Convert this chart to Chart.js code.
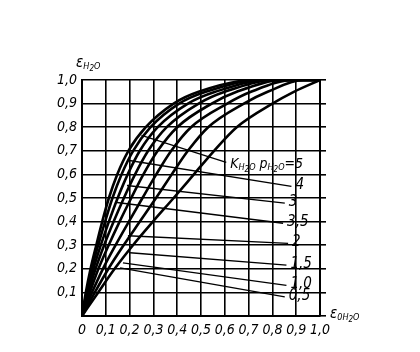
<!DOCTYPE html>
<html>
<head>
<meta charset="utf-8">
<script src="https://cdn.jsdelivr.net/npm/chart.js@4.4.0/dist/chart.umd.min.js"></script>
<style>
  html, body { margin: 0; padding: 0; background: #fff; }
  #wrap { width: 420px; height: 352px; }
</style>
</head>
<body>
<div id="wrap"><canvas id="epsChart" width="420" height="352"></canvas></div>
<script>
const epsLevels = [0, 0.1, 0.2, 0.3, 0.4, 0.5, 0.6, 0.7, 0.8, 0.9, 0.95, 1.0];
// eps_0H2O where each K*p curve crosses those levels
const eps0K5  = [0, 0.016, 0.036, 0.060, 0.085, 0.113, 0.148, 0.195, 0.268, 0.385, 0.49, 0.72];
const eps0K4  = [0, 0.019, 0.041, 0.068, 0.097, 0.128, 0.166, 0.215, 0.288, 0.408, 0.52, 0.75];
const eps0K3  = [0, 0.023, 0.048, 0.079, 0.113, 0.150, 0.192, 0.243, 0.318, 0.445, 0.56, 0.78];
const eps0K35 = [0, 0.027, 0.057, 0.093, 0.133, 0.176, 0.223, 0.278, 0.356, 0.490, 0.60, 0.81];
const eps0K2  = [0, 0.033, 0.069, 0.112, 0.158, 0.207, 0.258, 0.318, 0.400, 0.545, 0.65, 0.85];
const eps0K15 = [0, 0.042, 0.088, 0.141, 0.197, 0.254, 0.312, 0.375, 0.458, 0.610, 0.71, 0.89];
const eps0K1  = [0, 0.054, 0.111, 0.175, 0.243, 0.311, 0.377, 0.445, 0.530, 0.680, 0.78, 0.93];
const eps0K05 = [0, 0.068, 0.137, 0.214, 0.298, 0.385, 0.470, 0.555, 0.650, 0.800, 0.89, 1.0];
const curves = [eps0K5, eps0K4, eps0K3, eps0K35, eps0K2, eps0K15, eps0K1, eps0K05];

// leader lines: from curve to label  [x, y]
const kLabels    = ['5', '4', '3', '3,5', '2', '1,5', '1,0', '0,5'];
const leaderFrom = [[0.25, 0.765], [0.193, 0.66], [0.189, 0.553], [0.147, 0.481], [0.193, 0.34], [0.202, 0.268], [0.172, 0.225], [0.16, 0.204]];
const leaderTo   = [[0.606, 0.651], [0.88, 0.549], [0.852, 0.478], [0.845, 0.393], [0.866, 0.308], [0.859, 0.216], [0.859, 0.13], [0.852, 0.081]];

const xTicks = ['0', '0,1', '0,2', '0,3', '0,4', '0,5', '0,6', '0,7', '0,8', '0,9', '1,0'];
const yTicks = ['', '0,1', '0,2', '0,3', '0,4', '0,5', '0,6', '0,7', '0,8', '0,9', '1,0'];

const FONT = '"DejaVu Sans Condensed", "DejaVu Sans", sans-serif';

const datasets = [];
curves.forEach(function(c) {
  const pts = c.map(function(x, i) { return { x: x, y: epsLevels[i] }; });
  if (c[c.length - 1] < 1) pts.push({ x: 1, y: 1 });
  datasets.push({
    data: pts,
    borderColor: '#000',
    borderWidth: 2.6,
    pointRadius: 0,
    cubicInterpolationMode: 'monotone',
    fill: false
  });
});
leaderFrom.forEach(function(p, i) {
  datasets.push({
    data: [{ x: p[0], y: p[1] }, { x: leaderTo[i][0], y: leaderTo[i][1] }],
    borderColor: '#000',
    borderWidth: 1.3,
    pointRadius: 0,
    tension: 0,
    fill: false
  });
});

// draws subscripted text like eps_H2O
function subText(ctx, x, y, parts) {
  parts.forEach(function(p) {
    ctx.font = 'italic ' + p[1] + 'px ' + FONT;
    ctx.fillText(p[0], x, y + (p[2] || 0));
    x += ctx.measureText(p[0]).width;
  });
  return x;
}

const labelsPlugin = {
  id: 'labels',
  afterDatasetsDraw: function(chart) {
    const ctx = chart.ctx;
    const xs = chart.scales.x, ys = chart.scales.y;
    ctx.save();
    ctx.fillStyle = '#000';
    ctx.textBaseline = 'alphabetic';
    ctx.textAlign = 'left';
    // axis titles
    subText(ctx, 76, 67, [['ε', 15], ['H', 9, 2], ['2', 8, 4], ['O', 9, 2]]);
    subText(ctx, 330, 318, [['ε', 15], ['0H', 9, 2], ['2', 8, 4], ['O', 9, 2]]);
    // K*p labels at the leader ends
    kLabels.forEach(function(t, i) {
      const px = xs.getPixelForValue(leaderTo[i][0]) + 4;
      const py = ys.getPixelForValue(leaderTo[i][1]) + 3;
      if (i === 0) {
        subText(ctx, px, py + 3, [['K', 14], ['H', 9, 2], ['2', 8, 4], ['O', 9, 2], [' p', 14], ['H', 9, 2], ['2', 8, 4], ['O', 9, 2], ['=' + t, 14]]);
      } else {
        ctx.font = 'italic 15px ' + FONT;
        ctx.fillText(t, px, py);
      }
    });
    ctx.restore();
  }
};

const ctx = document.getElementById('epsChart').getContext('2d');
const epsChart = new Chart(ctx, {
  type: 'line',
  data: { datasets: datasets },
  options: {
    responsive: false,
    animation: false,
    layout: { padding: { left: 28, top: 80, right: 92, bottom: 10 } },
    plugins: { legend: { display: false }, tooltip: { enabled: false } },
    scales: {
      x: {
        type: 'linear', min: 0, max: 1,
        afterFit: function(s) { s.height = 26; },
        grid: { color: '#000', lineWidth: 1.6, drawTicks: false },
        border: { color: '#000', width: 2 },
        ticks: {
          stepSize: 0.1, padding: 6, color: '#000', maxRotation: 0,
          font: { family: FONT, size: 14, style: 'italic' },
          callback: function(v, i) { return xTicks[i]; }
        }
      },
      y: {
        min: 0, max: 1,
        afterFit: function(s) { s.width = 54; },
        grid: { color: '#000', lineWidth: 1.6, drawTicks: false },
        border: { color: '#000', width: 2 },
        ticks: {
          stepSize: 0.1, padding: 5, color: '#000',
          font: { family: FONT, size: 14, style: 'italic' },
          callback: function(v, i) { return yTicks[i]; }
        }
      },
      y2: {
        position: 'right', min: 0, max: 1,
        afterFit: function(s) { s.width = 8; },
        grid: { drawOnChartArea: false, color: '#000', lineWidth: 1.6, tickLength: 6 },
        border: { color: '#000', width: 2 },
        ticks: { stepSize: 0.1, display: false }
      }
    }
  },
  plugins: [labelsPlugin]
});
</script>
</body>
</html>
